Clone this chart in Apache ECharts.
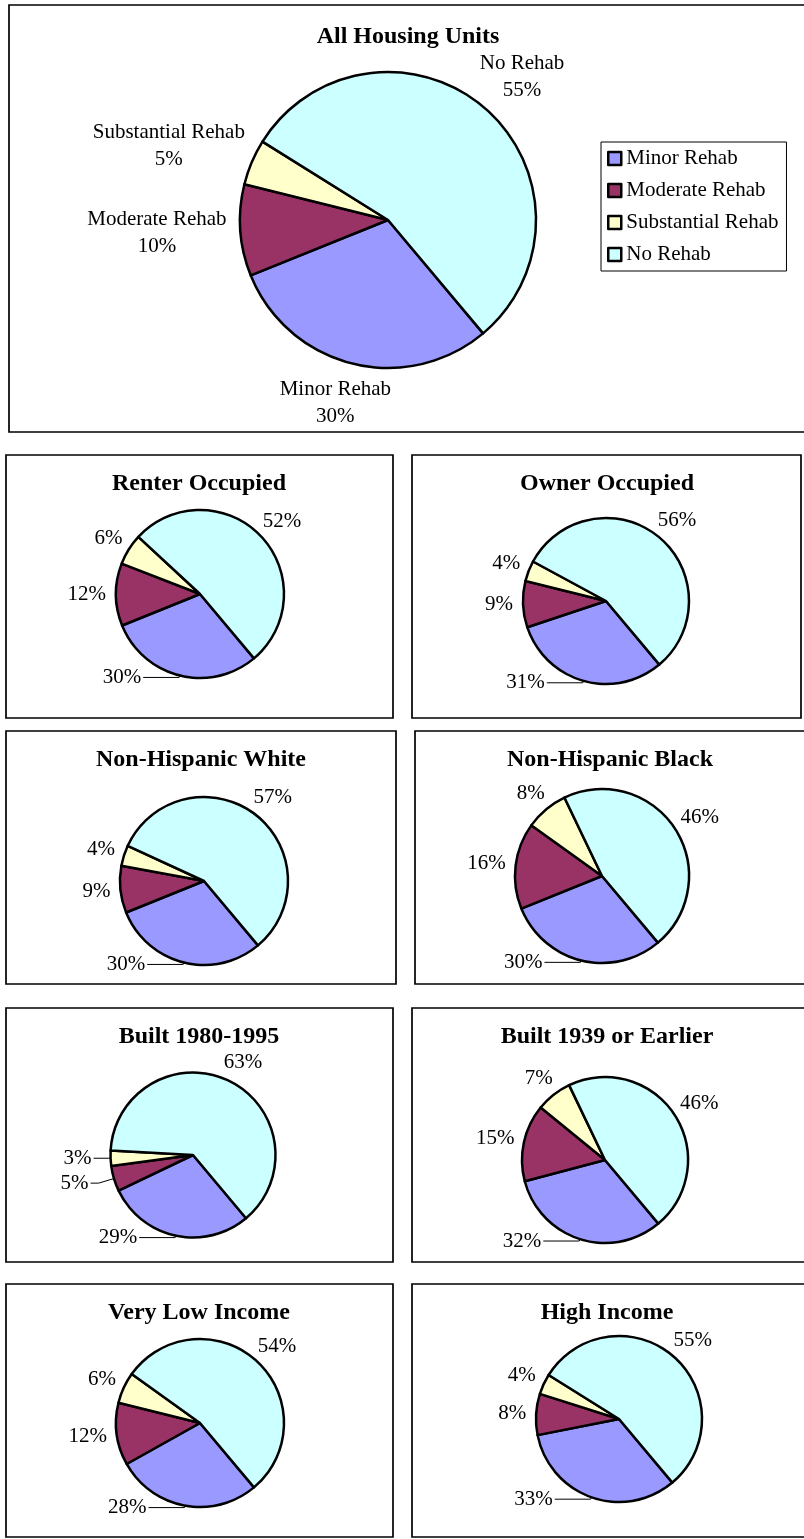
<!DOCTYPE html>
<html>
<head>
<meta charset="utf-8">
<title>Housing Units by Rehab Need</title>
<script src="https://cdn.jsdelivr.net/npm/echarts@6/dist/echarts.min.js"></script>
<style>
  html, body { margin: 0; padding: 0; background: #fff; }
  #main { width: 804px; height: 1539px; }
</style>
</head>
<body>
<div id="main"></div>
<script>
// slice categories, same order in every pie
var categories = ['Minor Rehab', 'Moderate Rehab', 'Substantial Rehab', 'No Rehab'];

// percent of units in each category
var allUnits      = [30, 10, 5, 55];
var renterOcc     = [30, 12, 6, 52];
var ownerOcc      = [31, 9, 4, 56];
var nonHispWhite  = [30, 9, 4, 57];
var nonHispBlack  = [30, 16, 8, 46];
var built1980     = [29, 5, 3, 63];
var built1939     = [32, 15, 7, 46];
var veryLowIncome = [28, 12, 6, 54];
var highIncome    = [33, 8, 4, 55];

var panelTitles = ['All Housing Units', 'Renter Occupied', 'Owner Occupied',
  'Non-Hispanic White', 'Non-Hispanic Black', 'Built 1980-1995',
  'Built 1939 or Earlier', 'Very Low Income', 'High Income'];
var panelValues = [allUnits, renterOcc, ownerOcc, nonHispWhite, nonHispBlack,
  built1980, built1939, veryLowIncome, highIncome];

var colors = ['#9999FF', '#993366', '#FFFFCC', '#CCFFFF'];
var FONT = '"Liberation Serif", "Times New Roman", serif';
var FIRST_SLICE = 140; // degrees clockwise from 12 o'clock

// layout: frame [x, y, w, h], title x, pie center, radius
var panels = [
  { box: [9, 5, 810, 427], tx: 408, center: [388, 220], r: 148 },
  { box: [6, 455, 387, 263], tx: 199, center: [200, 594], r: 84 },
  { box: [412, 455, 389, 263], tx: 607, center: [606, 601], r: 83 },
  { box: [6, 731, 390, 253], tx: 201, center: [204, 881], r: 84 },
  { box: [415, 731, 400, 253], tx: 610, center: [602, 876], r: 87 },
  { box: [6, 1008, 387, 254], tx: 199, center: [193, 1155], r: 82.5 },
  { box: [412, 1008, 400, 254], tx: 607, center: [605, 1160], r: 83 },
  { box: [6, 1284, 387, 253], tx: 199, center: [200, 1423], r: 84 },
  { box: [412, 1284, 400, 253], tx: 607, center: [619, 1419], r: 83 }
];
// slices whose label hangs on a leader line
var leaders = { 5: [0, 1, 2] };

function midAngle(vals, i) {
  var total = 0, cum = 0;
  vals.forEach(function (v, k) { total += v; if (k < i) cum += v; });
  return (FIRST_SLICE + 360 * (cum + vals[i] / 2) / total) * Math.PI / 180;
}

var myChart = echarts.init(document.getElementById('main'));

var titles = [];
var frames = [];
var series = [];

panels.forEach(function (p, idx) {
  var isMain = idx === 0;
  var vals = panelValues[idx];
  var lineItems = isMain ? [] : (leaders[idx] || [0]);
  var gap = isMain ? 14 : 10;

  titles.push({
    text: panelTitles[idx],
    left: p.tx,
    top: p.box[1] + (isMain ? 30 : 27) - 10,
    textAlign: 'center',
    padding: 0,
    textStyle: { fontFamily: FONT, fontSize: 24, fontWeight: 'bold', color: '#000' }
  });

  frames.push({
    type: 'rect',
    z: 0,
    silent: true,
    shape: { x: p.box[0], y: p.box[1], width: p.box[2], height: p.box[3] },
    style: { fill: 'none', stroke: '#000', lineWidth: 1.7 }
  });

  var data = vals.map(function (v, i) {
    var item = { name: categories[i], value: v, itemStyle: { color: colors[i] } };
    if (lineItems.indexOf(i) >= 0) {
      if (i === 0) item.labelLine = { show: true, length: 2, length2: 36 };
      else if (i === 1) item.labelLine = { show: true, length: 16, length2: 8 };
      else item.labelLine = { show: true, length: 2, length2: 15 };
    } else {
      item.labelLine = { show: false, length: 4, length2: 4 };
    }
    return item;
  });

  series.push({
    type: 'pie',
    name: panelTitles[idx],
    center: p.center,
    radius: p.r,
    startAngle: 90 - FIRST_SLICE,
    clockwise: true,
    avoidLabelOverlap: false,
    silent: true,
    animation: false,
    emphasis: { disabled: true },
    itemStyle: { borderColor: '#000', borderWidth: 2.5 },
    label: {
      show: true,
      position: 'outside',
      distanceToLabelLine: 2,
      color: '#000',
      fontFamily: FONT,
      fontSize: 21,
      lineHeight: isMain ? 27 : 21,
      formatter: function (d) {
        var pct = Math.round(d.percent) + '%';
        return isMain ? d.name + '\n' + pct : pct;
      }
    },
    labelLine: { lineStyle: { color: '#000', width: 1 } },
    labelLayout: function (prm) {
      if (lineItems.indexOf(prm.dataIndex) >= 0) return {};
      var a = midAngle(vals, prm.dataIndex);
      var s = Math.sin(a), c = Math.cos(a);
      var w = prm.labelRect.width, h = prm.labelRect.height;
      return {
        x: p.center[0] + (p.r + gap + w / 2) * s,
        y: p.center[1] - (p.r + gap + h / 2) * c,
        align: 'center',
        verticalAlign: 'middle'
      };
    },
    data: data
  });
});

var option = {
  backgroundColor: '#fff',
  animation: false,
  title: titles,
  legend: {
    show: true,
    data: categories,
    orient: 'vertical',
    left: 601,
    top: 142,
    padding: [6, 8, 6, 6],
    itemGap: 11,
    itemWidth: 13,
    itemHeight: 13,
    icon: 'rect',
    selectedMode: false,
    borderColor: '#000',
    borderWidth: 1,
    itemStyle: { borderColor: '#000', borderWidth: 2.5 },
    textStyle: { fontFamily: FONT, fontSize: 21, color: '#000' }
  },
  graphic: frames,
  series: series
};

myChart.setOption(option);
</script>
</body>
</html>
